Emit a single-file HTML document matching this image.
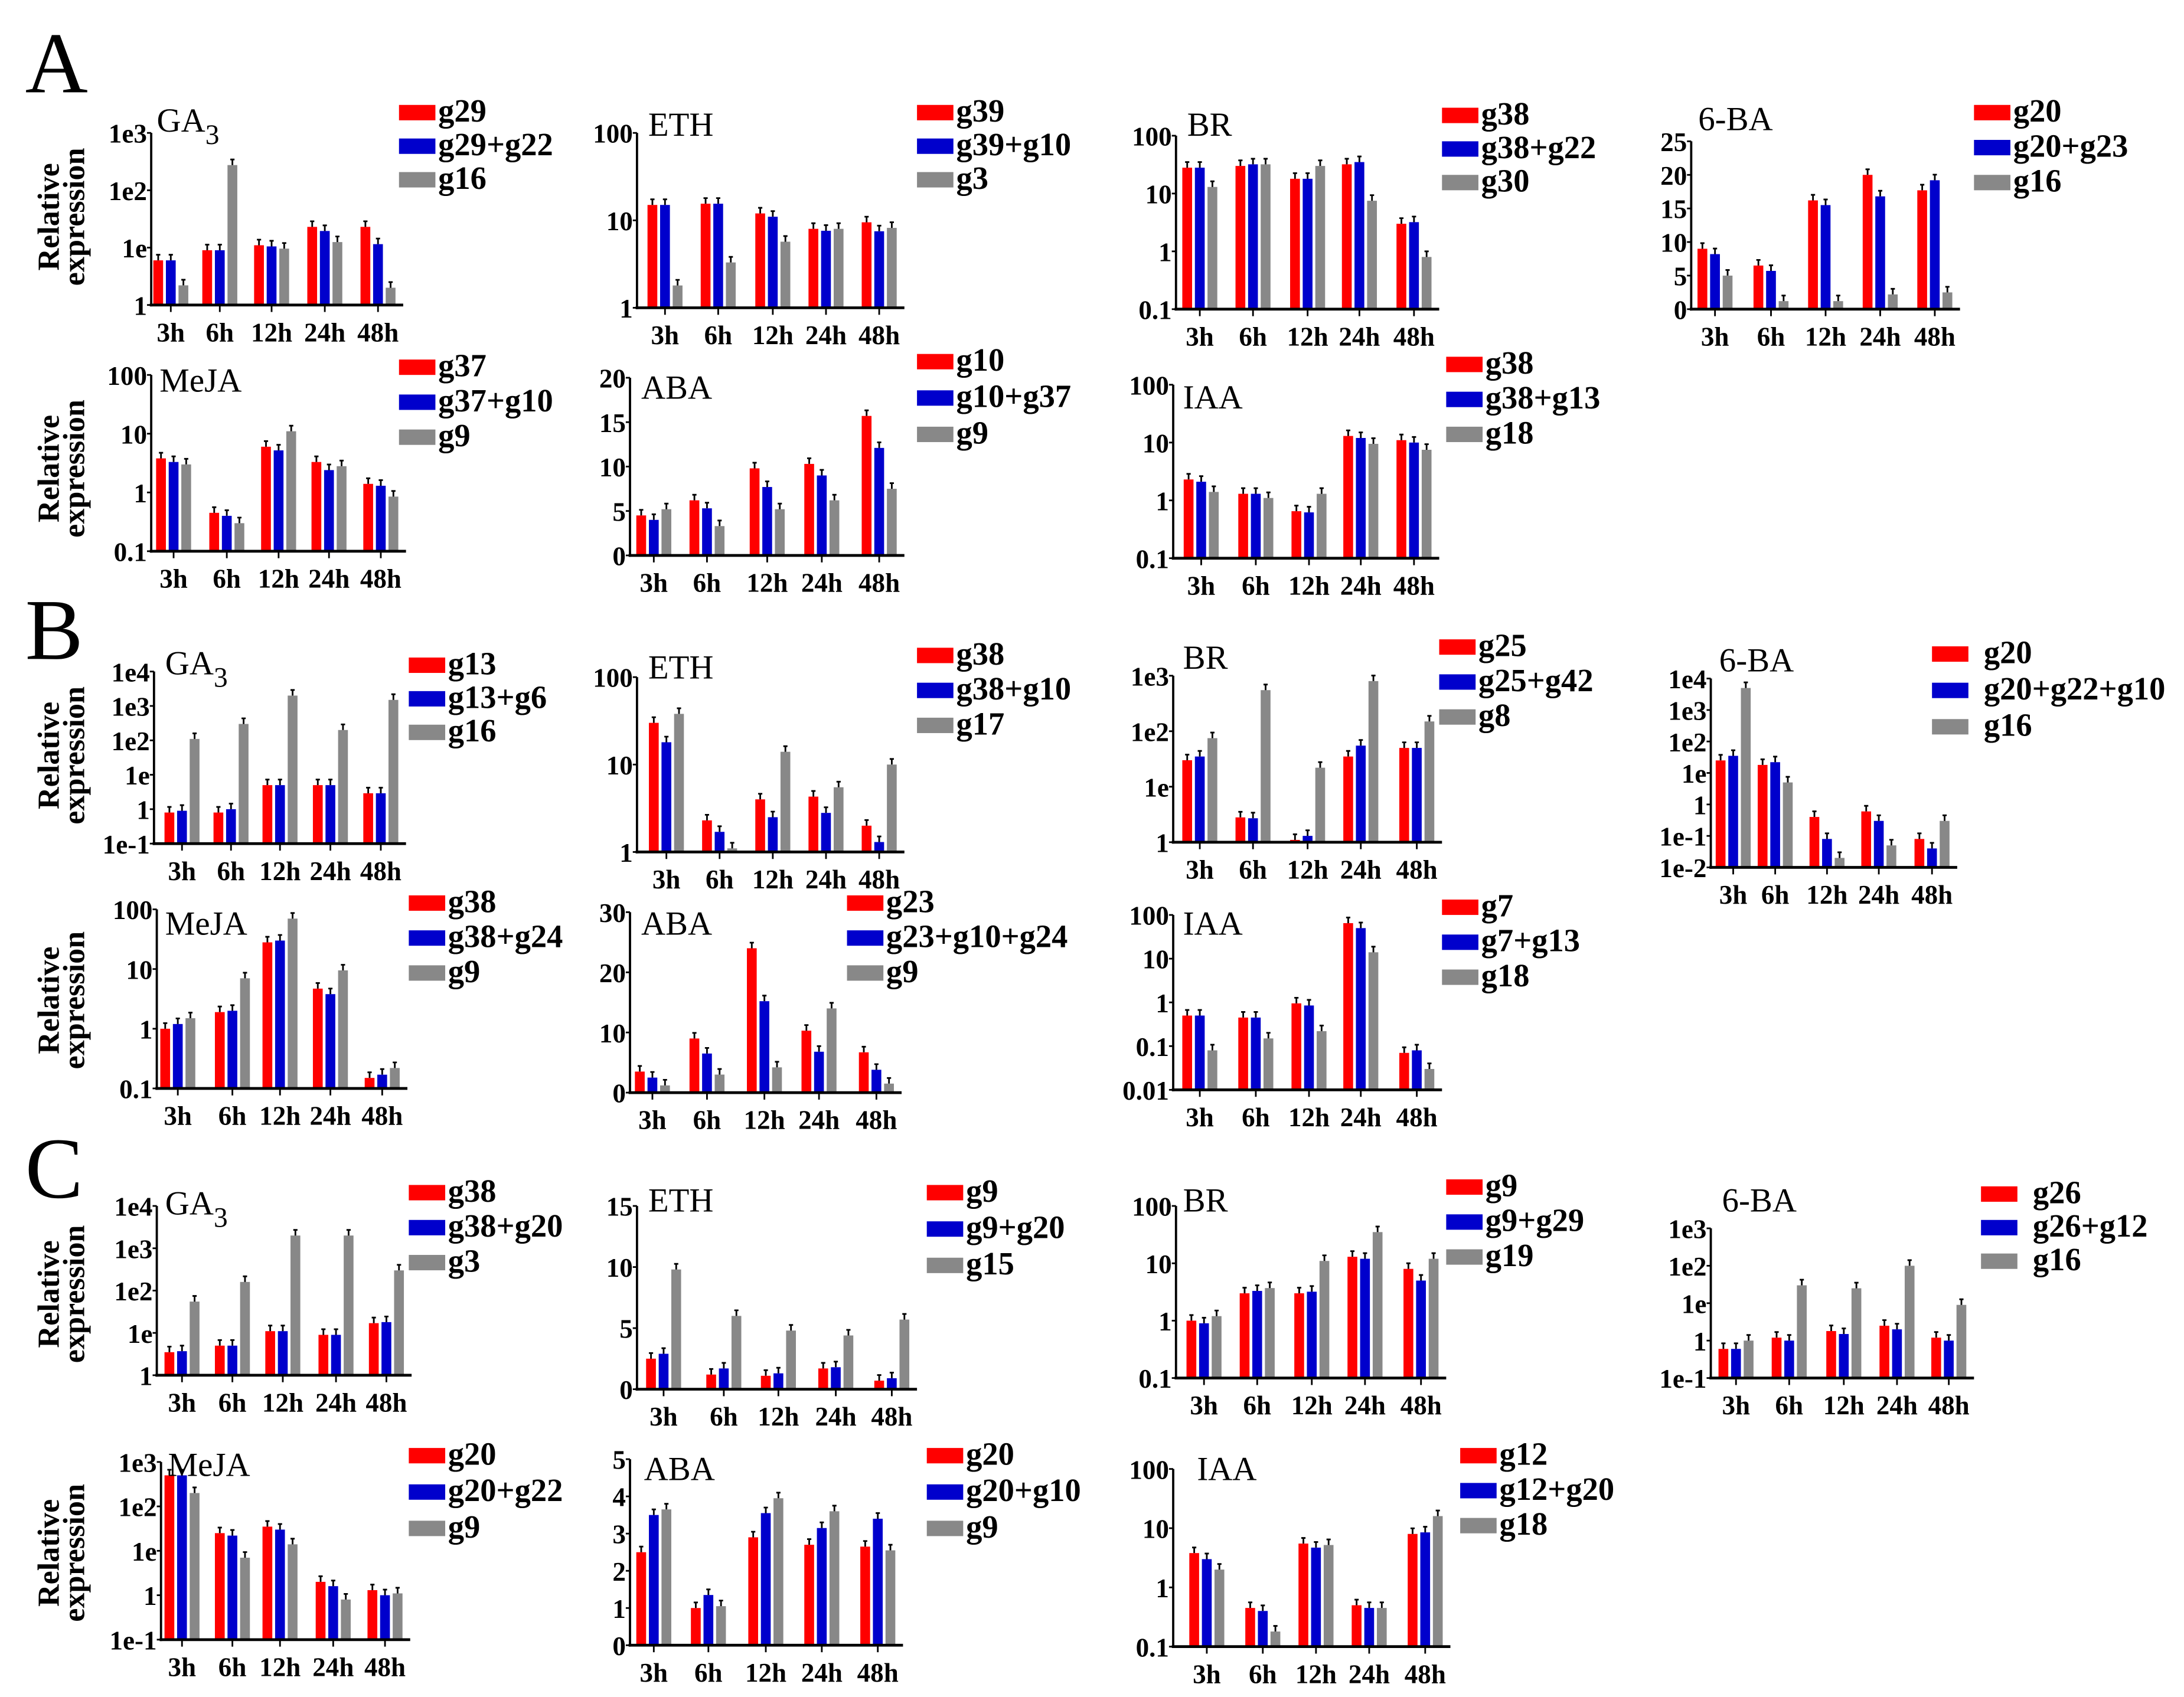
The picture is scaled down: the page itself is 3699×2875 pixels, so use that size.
<!DOCTYPE html>
<html><head><meta charset="utf-8">
<style>
html,body{margin:0;padding:0;background:#fff;}
svg{display:block;}
text{font-family:"Liberation Serif",serif;}
.tk{font-weight:bold;font-size:19px;}
.lg{font-weight:bold;font-size:23px;}
.tt{font-size:24px;}
.yl{font-weight:bold;font-size:22px;}
.let{font-size:62px;}
</style></head>
<body>
<svg id="fig" xmlns="http://www.w3.org/2000/svg" width="3699" height="2875" viewBox="0 0 1560 1213" preserveAspectRatio="none">
<text class="let" x="18" y="66">A</text>
<text class="let" x="18" y="471">B</text>
<text class="let" x="18" y="856">C</text>
</svg>
<script>
const cats=['3h','6h','12h','24h','48h'];
// A
const A1_red=[6,9,11,23,23], A1_blue=[6,9,10.5,19.5,11.5], A1_gray=[2.2,275,9.6,12.5,2];
const A2_red=[15,15.5,12,8,9.5], A2_blue=[15,15.5,11,7.6,7.5], A2_gray=[1.8,3.3,5.7,8,8.2];
const A3_red=[28,30,18,32,3], A3_blue=[28,32,18,35,3.2], A3_gray=[13,32,30,7.5,0.8];
const A4_red=[9,6.5,16.2,20,17.7], A4_blue=[8.2,5.7,15.5,16.8,19.2], A4_gray=[5,1.2,1.2,2.2,2.5];
const A5_red=[3.8,0.45,6,3.3,1.4], A5_blue=[3.3,0.4,5.2,2.4,1.3], A5_gray=[3,0.3,11,2.8,0.85];
const A6_red=[4.5,6.2,9.8,10.3,15.7], A6_blue=[4,5.3,7.7,9,12.1], A6_gray=[5.2,3.3,5.2,6.2,7.5];
const A7_red=[2.3,1.3,0.65,13,11], A7_blue=[2.1,1.3,0.62,12,10], A7_gray=[1.4,1.1,1.3,9.5,7.5];
// B
const B1_red=[0.8,0.8,5,5,2.9], B1_blue=[0.9,1,5,5,2.9], B1_gray=[110,300,2000,200,1500];
const B2_red=[30,2.3,4,4.3,2], B2_blue=[18,1.7,2.5,2.8,1.3], B2_gray=[38,1.1,14,5.5,10];
const B3_red=[30,2.8,1.1,35,50], B3_blue=[35,2.7,1.3,55,50], B3_gray=[75,550,22,800,150];
const B4_red=[25,18,0.4,0.6,0.08], B4_blue=[35,22,0.08,0.3,0.04], B4_gray=[5000,5,0.02,0.05,0.3];
const B5_red=[1,1.9,28,4.7,0.15], B5_blue=[1.2,2,30,3.8,0.17], B5_gray=[1.5,7,70,9.5,0.22];
const B6_red=[3.5,9,24,10.3,6.7], B6_blue=[2.5,6.5,15.2,6.8,3.8], B6_gray=[1.2,3,4.2,14,1.5];
const B7_red=[0.5,0.45,0.95,65,0.07], B7_blue=[0.5,0.45,0.85,50,0.08], B7_gray=[0.08,0.15,0.22,14,0.03];
// C
const C1_red=[3.5,5,11,9,17], C1_blue=[3.7,5,11,9,18], C1_gray=[55,160,2000,2000,300];
const C2_red=[2.5,1.2,1.1,1.7,0.7], C2_blue=[2.9,1.7,1.3,1.8,0.9], C2_gray=[9.8,6,4.8,4.4,5.7];
const C3_red=[1,3,3,13,8], C3_blue=[0.9,3.3,3.2,12,5], C3_gray=[1.2,3.7,11,35,12];
const C4_red=[0.6,1.2,1.8,2.5,1.2], C4_blue=[0.6,1,1.5,2,1], C4_gray=[1,30,25,100,9];
const C5_red=[500,25,35,2,1.3], C5_blue=[500,22,30,1.6,1], C5_gray=[200,7,14,0.8,1.1];
const C6_red=[2.5,1,2.9,2.7,2.65], C6_blue=[3.5,1.35,3.55,3.15,3.4], C6_gray=[3.65,1.05,3.95,3.6,2.55];
const C7_red=[3.8,0.45,5.5,0.5,8], C7_blue=[3,0.4,4.7,0.45,8.5], C7_gray=[2,0.18,5.2,0.45,16];

const NS='http://www.w3.org/2000/svg';
const svg=document.getElementById('fig');
function mk(tag,attrs,parent){const e=document.createElementNS(NS,tag);for(const k in attrs)e.setAttribute(k,attrs[k]);(parent||svg).appendChild(e);return e;}
const COLORS=['#ff0000','#0000cc','#888888'];

const panels=[
 {id:'a-ga3',red:A1_red,blue:A1_blue,gray:A1_gray,log:true,vmin:1,vmax:1000,yb:218,yt:95,ticks:[1,10,100,1000],tl:['1','1e','1e2','1e3'],ax:108,gx:[122,157,194,232,270],leg:['g29','g29+g22','g16'],lx:285,ly:80,ls:24,title:'GA',sub:'3',tx:112,ty:94},
 {id:'a-eth',red:A2_red,blue:A2_blue,gray:A2_gray,log:true,vmin:1,vmax:100,yb:220,yt:95,ticks:[1,10,100],tl:['1','10','100'],ax:455,gx:[475,513,552,590,628],leg:['g39','g39+g10','g3'],lx:655,ly:80,ls:24,title:'ETH',tx:463,ty:97},
 {id:'a-br',red:A3_red,blue:A3_blue,gray:A3_gray,log:true,vmin:0.1,vmax:100,yb:221,yt:97,ticks:[0.1,1,10,100],tl:['0.1','1','10','100'],ax:840,gx:[857,895,934,971,1010],leg:['g38','g38+g22','g30'],lx:1030,ly:82,ls:24,title:'BR',tx:848,ty:97},
 {id:'a-6ba',red:A4_red,blue:A4_blue,gray:A4_gray,log:false,vmin:0,vmax:25,yb:221,yt:101,ticks:[0,5,10,15,20,25],tl:['0','5','10','15','20','25'],ax:1208,gx:[1225,1265,1304,1343,1382],leg:['g20','g20+g23','g16'],lx:1410,ly:80,ls:25,title:'6-BA',tx:1213,ty:93},
 {id:'a-meja',red:A5_red,blue:A5_blue,gray:A5_gray,log:true,vmin:0.1,vmax:100,yb:394,yt:268,ticks:[0.1,1,10,100],tl:['0.1','1','10','100'],ax:108,gx:[124,162,199,235,272],leg:['g37','g37+g10','g9'],lx:285,ly:262,ls:25,title:'MeJA',tx:114,ty:280},
 {id:'a-aba',red:A6_red,blue:A6_blue,gray:A6_gray,log:false,vmin:0,vmax:20,yb:397,yt:270,ticks:[0,5,10,15,20],tl:['0','5','10','15','20'],ax:450,gx:[467,505,548,587,628],leg:['g10','g10+g37','g9'],lx:655,ly:258,ls:26,title:'ABA',tx:458,ty:285},
 {id:'a-iaa',red:A7_red,blue:A7_blue,gray:A7_gray,log:true,vmin:0.1,vmax:100,yb:399,yt:275,ticks:[0.1,1,10,100],tl:['0.1','1','10','100'],ax:838,gx:[858,897,935,972,1010],leg:['g38','g38+g13','g18'],lx:1033,ly:260,ls:25,title:'IAA',tx:845,ty:292},
 {id:'b-ga3',red:B1_red,blue:B1_blue,gray:B1_gray,log:true,vmin:0.1,vmax:10000,yb:603,yt:480,ticks:[0.1,1,10,100,1000,10000],tl:['1e-1','1','1e','1e2','1e3','1e4'],ax:110,gx:[130,165,200,236,272],leg:['g13','g13+g6','g16'],lx:292,ly:475,ls:24,title:'GA',sub:'3',tx:118,ty:482},
 {id:'b-eth',red:B2_red,blue:B2_blue,gray:B2_gray,log:true,vmin:1,vmax:100,yb:609,yt:484,ticks:[1,10,100],tl:['1','10','100'],ax:455,gx:[476,514,552,590,628],leg:['g38','g38+g10','g17'],lx:655,ly:468,ls:25,title:'ETH',tx:463,ty:485},
 {id:'b-br',red:B3_red,blue:B3_blue,gray:B3_gray,log:true,vmin:1,vmax:1000,yb:602,yt:483,ticks:[1,10,100,1000],tl:['1','1e','1e2','1e3'],ax:838,gx:[857,895,934,972,1012],leg:['g25','g25+g42','g8'],lx:1028,ly:462,ls:25,title:'BR',tx:845,ty:478},
 {id:'b-6ba',red:B4_red,blue:B4_blue,gray:B4_gray,log:true,vmin:0.01,vmax:10000,yb:620,yt:485,ticks:[0.01,0.1,1,10,100,1000,10000],tl:['1e-2','1e-1','1','1e','1e2','1e3','1e4'],ax:1222,gx:[1238,1268,1305,1342,1380],leg:['g20','g20+g22+g10','g16'],lx:1380,ly:467,ls:26,tox:37,title:'6-BA',tx:1228,ty:480},
 {id:'b-meja',red:B5_red,blue:B5_blue,gray:B5_gray,log:true,vmin:0.1,vmax:100,yb:778,yt:650,ticks:[0.1,1,10,100],tl:['0.1','1','10','100'],ax:112,gx:[127,166,200,236,273],leg:['g38','g38+g24','g9'],lx:292,ly:645,ls:25,title:'MeJA',tx:118,ty:668},
 {id:'b-aba',red:B6_red,blue:B6_blue,gray:B6_gray,log:false,vmin:0,vmax:30,yb:781,yt:652,ticks:[0,10,20,30],tl:['0','10','20','30'],ax:450,gx:[466,505,546,585,626],leg:['g23','g23+g10+g24','g9'],lx:605,ly:645,ls:25,title:'ABA',tx:458,ty:668},
 {id:'b-iaa',red:B7_red,blue:B7_blue,gray:B7_gray,log:true,vmin:0.01,vmax:100,yb:779,yt:654,ticks:[0.01,0.1,1,10,100],tl:['0.01','0.1','1','10','100'],ax:838,gx:[857,897,935,972,1012],leg:['g7','g7+g13','g18'],lx:1030,ly:648,ls:25,title:'IAA',tx:845,ty:668},
 {id:'c-ga3',red:C1_red,blue:C1_blue,gray:C1_gray,log:true,vmin:1,vmax:10000,yb:983,yt:862,ticks:[1,10,100,1000,10000],tl:['1','1e','1e2','1e3','1e4'],ax:112,gx:[130,166,202,240,276],leg:['g38','g38+g20','g3'],lx:292,ly:852,ls:25,title:'GA',sub:'3',tx:118,ty:868},
 {id:'c-eth',red:C2_red,blue:C2_blue,gray:C2_gray,log:false,vmin:0,vmax:15,yb:993,yt:862,ticks:[0,5,10,15],tl:['0','5','10','15'],ax:455,gx:[474,517,556,597,637],leg:['g9','g9+g20','g15'],lx:662,ly:852,ls:26,title:'ETH',tx:463,ty:866},
 {id:'c-br',red:C3_red,blue:C3_blue,gray:C3_gray,log:true,vmin:0.1,vmax:100,yb:985,yt:862,ticks:[0.1,1,10,100],tl:['0.1','1','10','100'],ax:840,gx:[860,898,937,975,1015],leg:['g9','g9+g29','g19'],lx:1033,ly:848,ls:25,title:'BR',tx:845,ty:866},
 {id:'c-6ba',red:C4_red,blue:C4_blue,gray:C4_gray,log:true,vmin:0.1,vmax:1000,yb:985,yt:878,ticks:[0.1,1,10,100,1000],tl:['1e-1','1','1e','1e2','1e3'],ax:1222,gx:[1240,1278,1317,1355,1392],leg:['g26','g26+g12','g16'],lx:1415,ly:853,ls:24,tox:37,title:'6-BA',tx:1230,ty:866},
 {id:'c-meja',red:C5_red,blue:C5_blue,gray:C5_gray,log:true,vmin:0.1,vmax:1000,yb:1172,yt:1045,ticks:[0.1,1,10,100,1000],tl:['1e-1','1','1e','1e2','1e3'],ax:115,gx:[130,166,200,238,275],leg:['g20','g20+g22','g9'],lx:292,ly:1040,ls:26,title:'MeJA',tx:120,ty:1055},
 {id:'c-aba',red:C6_red,blue:C6_blue,gray:C6_gray,log:false,vmin:0,vmax:5,yb:1176,yt:1043,ticks:[0,1,2,3,4,5],tl:['0','1','2','3','4','5'],ax:450,gx:[467,506,547,587,627],leg:['g20','g20+g10','g9'],lx:662,ly:1040,ls:26,title:'ABA',tx:460,ty:1058},
 {id:'c-iaa',red:C7_red,blue:C7_blue,gray:C7_gray,log:true,vmin:0.1,vmax:100,yb:1177,yt:1050,ticks:[0.1,1,10,100],tl:['0.1','1','10','100'],ax:838,gx:[862,902,940,978,1018],leg:['g12','g12+g20','g18'],lx:1043,ly:1040,ls:25,title:'IAA',tx:855,ty:1058}
];

function drawPanel(p){
  const g=mk('g',{});
  
  
  const yScale=v=>{
    if(p.log){const a=Math.log10(p.vmin),b=Math.log10(p.vmax);return p.yb-(Math.log10(Math.max(v,p.vmin))-a)/(b-a)*(p.yb-p.yt);}
    return p.yb-(v-p.vmin)/(p.vmax-p.vmin)*(p.yb-p.yt);
  };
  const base=p.yb;
  const xEnd=p.gx[4]+18;
  const series=[p.red,p.blue,p.gray];
  series.forEach((arr,si)=>{
    arr.forEach((v,ci)=>{
      const x=p.gx[ci]+(si-1)*9-3.5;
      const y=yScale(v);
      const r=mk('rect',{x:x,y:y,width:7,height:Math.max(0,base-y),fill:COLORS[si]},g);
      
      
      const eb=mk('path',{d:'M'+(x+3.5)+' '+y+'V'+(y-4)+'M'+(x+2)+' '+(y-4)+'H'+(x+5),stroke:'#000','stroke-width':1.2,fill:'none'},g);
      
      
    });
  });
  const ya=mk('line',{x1:p.ax,y1:p.yt,x2:p.ax,y2:base+1,stroke:'#000','stroke-width':1.6},g);
  
  
  const xa=mk('line',{x1:p.ax-1,y1:base,x2:xEnd,y2:base,stroke:'#000','stroke-width':2},g);
  
  
  p.ticks.forEach((tv,i)=>{
    const y=yScale(tv);
    mk('line',{x1:p.ax-3,y1:y,x2:p.ax,y2:y,stroke:'#000','stroke-width':1.2},g);
    const t=mk('text',{x:p.ax-3,y:y+7,'text-anchor':'end',class:'tk'},g);
    t.textContent=p.tl[i];
    
    
  });
  cats.forEach((c,ci)=>{
    mk('line',{x1:p.gx[ci],y1:base,x2:p.gx[ci],y2:base+5,stroke:'#000','stroke-width':1.2},g);
    const t=mk('text',{x:p.gx[ci],y:base+26,'text-anchor':'middle',class:'tk'},g);
    t.textContent=c;
    
    
  });
  const tt=mk('text',{x:p.tx,y:p.ty,class:'tt'},g);
  tt.textContent=p.title;
  
  
  if(p.sub){const s=mk('tspan',{dy:9,'font-size':'20'},tt);s.textContent=p.sub;}
  const tox=p.tox||28;
  p.leg.forEach((lab,i)=>{
    const y=p.ly+i*p.ls;
    const sw=mk('rect',{x:p.lx,y:y-5,width:26,height:11,fill:COLORS[i]},g);
    
    
    const t=mk('text',{x:p.lx+tox,y:y+7,class:'lg'},g);
    t.textContent=lab;
    
    
  });
}
panels.forEach(drawPanel);

[155,335,540,715,925,1110].forEach(cy=>{
  const t=mk('text',{transform:'translate(42,'+cy+') rotate(-90)','text-anchor':'middle',class:'yl'});
  t.textContent='Relative';
  
  
  const t2=mk('text',{transform:'translate(60,'+cy+') rotate(-90)','text-anchor':'middle',class:'yl'});
  t2.textContent='expression';
  
  
});
</script>
</body></html>
